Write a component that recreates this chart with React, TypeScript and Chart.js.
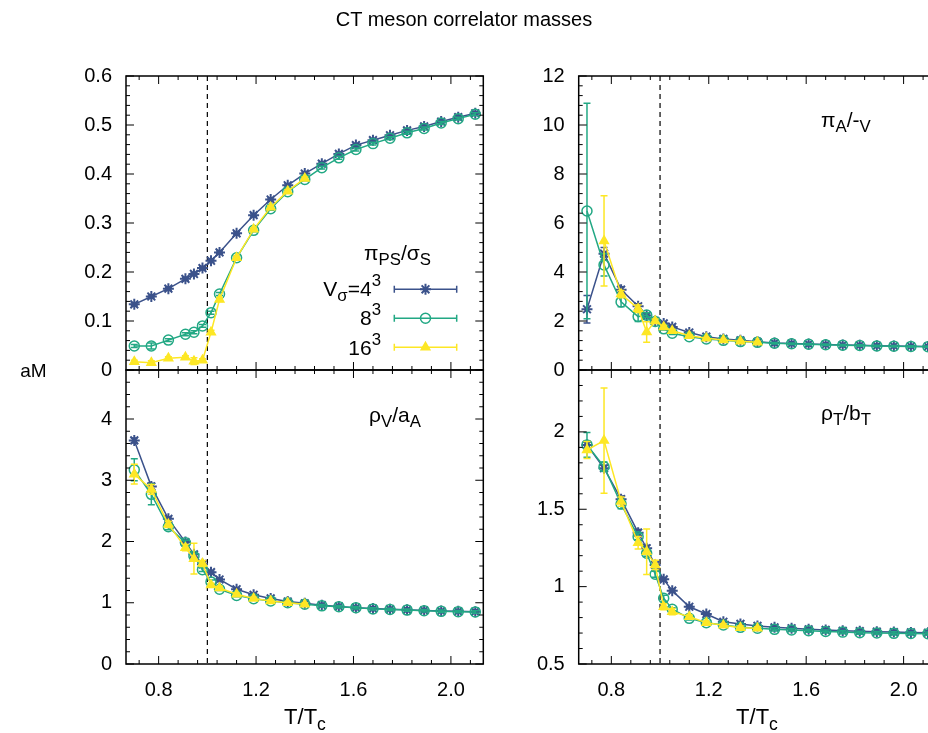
import React, { useEffect, useRef } from "react";
import { Chart, registerables } from "chart.js";

Chart.register(...registerables);

// ---------------- data ----------------
const T_OVER_TC = [0.70, 0.77, 0.84, 0.91, 0.945, 0.98, 1.015, 1.05, 1.12, 1.19, 1.26, 1.33, 1.40, 1.47, 1.54, 1.61, 1.68, 1.75, 1.82, 1.89, 1.96, 2.03, 2.10];
const X_TICKS = [0.8, 1.2, 1.6, 2.0];
const X_MIN = 0.666;
const X_MAX = 2.133;
const TC_LINE = 1.0;

// pi_PS / sigma_S
const PS_V4 = [0.134, 0.150, 0.166, 0.186, 0.196, 0.208, 0.223, 0.240, 0.279, 0.316, 0.348, 0.377, 0.401, 0.421, 0.441, 0.459, 0.469, 0.479, 0.489, 0.497, 0.507, 0.516, 0.524];
const PS_V4_ERR = [0.003, 0.003, 0.003, 0.003, 0.003, 0.003, 0.003, 0.003, 0.003, 0.003, 0.003, 0.003, 0.003, 0.003, 0.003, 0.003, 0.003, 0.003, 0.003, 0.003, 0.003, 0.003, 0.003];
const PS_V8 = [0.049, 0.049, 0.061, 0.073, 0.077, 0.090, 0.117, 0.155, 0.229, 0.285, 0.329, 0.364, 0.389, 0.413, 0.433, 0.450, 0.462, 0.473, 0.484, 0.493, 0.504, 0.513, 0.522];
const PS_V8_ERR = [0.003, 0.006, 0.003, 0.003, 0.003, 0.003, 0.003, 0.003, 0.003, 0.003, 0.003, 0.003, 0.003, 0.003, 0.003, 0.003, 0.003, 0.003, 0.003, 0.003, 0.003, 0.003, 0.003];
const PS_V16 = [0.017, 0.015, 0.024, 0.026, 0.018, 0.020, 0.077, 0.144, 0.229, 0.287, 0.332, 0.365, 0.391];
const PS_V16_ERR = [0.003, 0.004, 0.003, 0.003, 0.007, 0.003, 0.004, 0.004, 0.003, 0.003, 0.003, 0.003, 0.003];
const PS_Y_TICKS = [0, 0.1, 0.2, 0.3, 0.4, 0.5, 0.6];

// pi_A / -_V
const AV_V4 = [2.48, 4.75, 3.28, 2.60, 2.22, 2.00, 1.90, 1.76, 1.53, 1.36, 1.27, 1.21, 1.15, 1.10, 1.08, 1.06, 1.04, 1.02, 1.01, 0.99, 0.98, 0.97, 0.96];
const AV_V4_ERR = [0.56, 0.25, 0.12, 0.10, 0.08, 0.06, 0.05, 0.05, 0.04, 0.04, 0.03, 0.03, 0.03, 0.03, 0.03, 0.03, 0.03, 0.03, 0.03, 0.03, 0.03, 0.03, 0.03];
const AV_V8 = [6.49, 4.29, 2.78, 2.18, 2.24, 1.98, 1.68, 1.50, 1.36, 1.27, 1.21, 1.16, 1.13, 1.09, 1.07, 1.05, 1.03, 1.01, 1.00, 0.98, 0.97, 0.96, 0.95];
const AV_V8_ERR = [4.4, 0.45, 0.20, 0.20, 0.10, 0.06, 0.05, 0.05, 0.04, 0.03, 0.03, 0.03, 0.03, 0.03, 0.03, 0.03, 0.03, 0.03, 0.03, 0.03, 0.03, 0.03, 0.03];
const AV_V16 = [null, 5.27, 3.10, 2.50, 1.55, 2.00, 1.76, 1.60, 1.40, 1.30, 1.22, 1.17, 1.13];
const AV_V16_ERR = [0, 1.84, 0.15, 0.15, 0.42, 0.08, 0.06, 0.05, 0.04, 0.03, 0.03, 0.03, 0.03];
const AV_Y_TICKS = [0, 2, 4, 6, 8, 10, 12];

// rho_V / a_A
const VA_V4 = [3.65, 2.90, 2.37, 1.99, 1.79, 1.63, 1.50, 1.38, 1.22, 1.13, 1.07, 1.02, 0.99, 0.96, 0.94, 0.92, 0.905, 0.895, 0.885, 0.875, 0.865, 0.86, 0.855];
const VA_V4_ERR = [0.04, 0.05, 0.03, 0.03, 0.03, 0.02, 0.02, 0.02, 0.02, 0.02, 0.02, 0.02, 0.02, 0.02, 0.02, 0.02, 0.02, 0.02, 0.02, 0.02, 0.02, 0.02, 0.02];
const VA_V8 = [3.17, 2.77, 2.24, 1.98, 1.76, 1.54, 1.34, 1.22, 1.12, 1.065, 1.03, 1.00, 0.975, 0.95, 0.935, 0.92, 0.90, 0.89, 0.88, 0.87, 0.86, 0.855, 0.85];
const VA_V8_ERR = [0.18, 0.17, 0.05, 0.04, 0.04, 0.03, 0.03, 0.02, 0.02, 0.02, 0.02, 0.02, 0.02, 0.02, 0.02, 0.02, 0.02, 0.02, 0.02, 0.02, 0.02, 0.02, 0.02];
const VA_V16 = [3.10, 2.85, 2.28, 1.90, 1.72, 1.64, 1.29, 1.24, 1.14, 1.07, 1.03, 1.00, 0.975];
const VA_V16_ERR = [0.16, 0.08, 0.05, 0.05, 0.25, 0.05, 0.03, 0.03, 0.02, 0.02, 0.02, 0.02, 0.02];
const VA_Y_TICKS = [0, 1, 2, 3, 4];

// rho_T / b_T
const TB_V4 = [1.916, 1.765, 1.565, 1.349, 1.248, 1.14, 1.047, 0.974, 0.87, 0.823, 0.773, 0.759, 0.746, 0.737, 0.731, 0.724, 0.72, 0.715, 0.712, 0.709, 0.706, 0.704, 0.702];
const TB_V4_ERR = [0.02, 0.02, 0.02, 0.02, 0.02, 0.01, 0.01, 0.01, 0.01, 0.01, 0.01, 0.01, 0.01, 0.01, 0.01, 0.01, 0.01, 0.01, 0.01, 0.01, 0.01, 0.01, 0.01];
const TB_V8 = [1.916, 1.775, 1.534, 1.323, 1.216, 1.08, 0.925, 0.854, 0.795, 0.767, 0.752, 0.737, 0.731, 0.724, 0.72, 0.715, 0.71, 0.706, 0.702, 0.70, 0.698, 0.697, 0.696];
const TB_V8_ERR = [0.08, 0.03, 0.03, 0.02, 0.02, 0.02, 0.02, 0.01, 0.01, 0.01, 0.01, 0.01, 0.01, 0.01, 0.01, 0.01, 0.01, 0.01, 0.01, 0.01, 0.01, 0.01, 0.01];
const TB_V16 = [1.883, 1.944, 1.55, 1.284, 1.226, 1.14, 0.87, 0.838, 0.806, 0.767, 0.75, 0.735, 0.731];
const TB_V16_ERR = [0.055, 0.34, 0.03, 0.04, 0.147, 0.03, 0.02, 0.02, 0.01, 0.01, 0.01, 0.01, 0.01];
const TB_Y_TICKS = [0.5, 1, 1.5, 2];

// ---------------- style ----------------
const FONT = '"Liberation Sans", Arial, Helvetica, sans-serif';
const TICK_SIZE = 20;
const TEXT_SIZE = 21;
const BLUE = "#3b528b";
const GREEN = "#22a884";
const YELLOW = "#fde725";
const CW = 960;
const CH = 733;
const XAXIS_H = 40;

type Area = { left: number; top: number; right: number; bottom: number };
type Panel = {
  yMin: number; yMax: number; yTicks: number[]; yMinor: number;
  showX: boolean; area: Area; legend: boolean;
  v4: (number | null)[]; v4e: number[];
  v8: (number | null)[]; v8e: number[];
  v16: (number | null)[]; v16e: number[];
};

const PANELS: Panel[] = [
  { yMin: 0, yMax: 0.6, yTicks: PS_Y_TICKS, yMinor: 0.02, showX: false, legend: true,
    area: { left: 126, top: 76, right: 483.3, bottom: 370 },
    v4: PS_V4, v4e: PS_V4_ERR, v8: PS_V8, v8e: PS_V8_ERR, v16: PS_V16, v16e: PS_V16_ERR },
  { yMin: 0, yMax: 12, yTicks: AV_Y_TICKS, yMinor: 0.4, showX: false, legend: false,
    area: { left: 578.7, top: 76, right: 936, bottom: 370 },
    v4: AV_V4, v4e: AV_V4_ERR, v8: AV_V8, v8e: AV_V8_ERR, v16: AV_V16, v16e: AV_V16_ERR },
  { yMin: 0, yMax: 4.8, yTicks: VA_Y_TICKS, yMinor: 0.2, showX: true, legend: false,
    area: { left: 126, top: 370, right: 483.3, bottom: 664 },
    v4: VA_V4, v4e: VA_V4_ERR, v8: VA_V8, v8e: VA_V8_ERR, v16: VA_V16, v16e: VA_V16_ERR },
  { yMin: 0.5, yMax: 2.4, yTicks: TB_Y_TICKS, yMinor: 0.1, showX: true, legend: false,
    area: { left: 578.7, top: 370, right: 936, bottom: 664 },
    v4: TB_V4, v4e: TB_V4_ERR, v8: TB_V8, v8e: TB_V8_ERR, v16: TB_V16, v16e: TB_V16_ERR },
];

function fmt(v: number) {
  return String(Number(v.toFixed(2)));
}

function drawMarker(ctx: CanvasRenderingContext2D, style: string, x: number, y: number, r: number, color: string, lw: number) {
  ctx.save();
  ctx.strokeStyle = color;
  ctx.fillStyle = color;
  ctx.lineWidth = lw;
  ctx.beginPath();
  if (style === "star") {
    const d = r * Math.SQRT1_2;
    ctx.moveTo(x - r, y); ctx.lineTo(x + r, y);
    ctx.moveTo(x, y - r); ctx.lineTo(x, y + r);
    ctx.moveTo(x - d, y - d); ctx.lineTo(x + d, y + d);
    ctx.moveTo(x - d, y + d); ctx.lineTo(x + d, y - d);
    ctx.stroke();
  } else if (style === "circle") {
    ctx.arc(x, y, r, 0, Math.PI * 2);
    ctx.stroke();
  } else {
    for (let k = 0; k < 3; k++) {
      const a = (k * 2 * Math.PI) / 3;
      const px = x + Math.sin(a) * r;
      const py = y - Math.cos(a) * r;
      if (k === 0) ctx.moveTo(px, py); else ctx.lineTo(px, py);
    }
    ctx.closePath();
    ctx.fill();
    ctx.stroke();
  }
  ctx.restore();
}

const SERIES_STYLE = [
  { color: BLUE, point: "star", radius: 5.5, order: 3, fill: BLUE, pw: 2 },
  { color: GREEN, point: "circle", radius: 5, order: 2, fill: "rgba(0,0,0,0)", pw: 1.5 },
  { color: YELLOW, point: "triangle", radius: 5, order: 1, fill: YELLOW, pw: 1.5 },
];

function makePlugin(p: Panel) {
  return {
    id: "gnuframe",
    beforeDatasetsDraw(chart: any) {
      const { ctx, chartArea: a, scales } = chart;
      const x = scales.x.getPixelForValue(TC_LINE);
      ctx.save();
      ctx.strokeStyle = "#000";
      ctx.lineWidth = 1.2;
      ctx.setLineDash([5, 4]);
      ctx.beginPath();
      ctx.moveTo(x, a.top);
      ctx.lineTo(x, a.bottom);
      ctx.stroke();
      ctx.restore();
    },
    beforeDatasetDraw(chart: any, args: any) {
      const ds = chart.data.datasets[args.index];
      const errs: number[] = ds.errors;
      const { ctx, chartArea: a, scales } = chart;
      ctx.save();
      ctx.beginPath();
      ctx.rect(a.left, a.top, a.right - a.left, a.bottom - a.top);
      ctx.clip();
      ctx.strokeStyle = ds.borderColor;
      ctx.lineWidth = 1.5;
      ds.data.forEach((pt: any, i: number) => {
        const e = errs[i];
        if (pt.y === null || !e) return;
        const px = scales.x.getPixelForValue(pt.x);
        const y1 = scales.y.getPixelForValue(pt.y - e);
        const y2 = scales.y.getPixelForValue(pt.y + e);
        ctx.beginPath();
        ctx.moveTo(px, y1); ctx.lineTo(px, y2);
        ctx.moveTo(px - 3.5, y1); ctx.lineTo(px + 3.5, y1);
        ctx.moveTo(px - 3.5, y2); ctx.lineTo(px + 3.5, y2);
        ctx.stroke();
      });
      ctx.restore();
    },
    afterDraw(chart: any) {
      const { ctx, chartArea: a, scales } = chart;
      ctx.save();
      ctx.strokeStyle = "#000";
      ctx.lineWidth = 1;
      for (let k = -5; k <= 30; k++) {
        const v = X_TICKS[0] + k * 0.08;
        if (v < X_MIN - 1e-9 || v > X_MAX + 1e-9) continue;
        const major = k % 5 === 0;
        const len = major ? 8 : 4;
        const px = scales.x.getPixelForValue(v);
        ctx.beginPath();
        ctx.moveTo(px, a.bottom); ctx.lineTo(px, a.bottom - len);
        ctx.moveTo(px, a.top); ctx.lineTo(px, a.top + len);
        ctx.stroke();
      }
      const majorStep = p.yTicks[1] - p.yTicks[0];
      const nPer = Math.round(majorStep / p.yMinor);
      for (let k = -nPer * 2; k <= 200; k++) {
        const v = p.yTicks[0] + k * p.yMinor;
        if (v < p.yMin - 1e-9 || v > p.yMax + 1e-9) continue;
        const major = ((k % nPer) + nPer) % nPer === 0;
        const len = major ? 8 : 4;
        const py = scales.y.getPixelForValue(v);
        ctx.beginPath();
        ctx.moveTo(a.left, py); ctx.lineTo(a.left + len, py);
        ctx.moveTo(a.right, py); ctx.lineTo(a.right - len, py);
        ctx.stroke();
      }
      ctx.lineWidth = 1.5;
      ctx.strokeRect(a.left, a.top, a.right - a.left, a.bottom - a.top);
      ctx.restore();

      if (p.legend) {
        const x1 = a.right - 89;
        const x2 = a.right - 26.6;
        const ys = [a.bottom - 80.7, a.bottom - 51.7, a.bottom - 22.7];
        SERIES_STYLE.forEach((s, i) => {
          const y = ys[i];
          ctx.save();
          ctx.strokeStyle = s.color;
          ctx.lineWidth = 1.5;
          ctx.beginPath();
          ctx.moveTo(x1, y); ctx.lineTo(x2, y);
          ctx.moveTo(x1, y - 3.5); ctx.lineTo(x1, y + 3.5);
          ctx.moveTo(x2, y - 3.5); ctx.lineTo(x2, y + 3.5);
          ctx.stroke();
          ctx.restore();
          drawMarker(ctx, s.point, (x1 + x2) / 2, y, s.radius, s.color, s.pw);
        });
      }
    },
  };
}

function toPoints(vals: (number | null)[]) {
  return vals.map((v, i) => ({ x: T_OVER_TC[i], y: v }));
}

function buildChart(canvas: HTMLCanvasElement, p: Panel) {
  const series = [
    { vals: p.v4, errs: p.v4e },
    { vals: p.v8, errs: p.v8e },
    { vals: p.v16, errs: p.v16e },
  ];
  const datasets = series.map((s, i) => {
    const st = SERIES_STYLE[i];
    return {
      data: toPoints(s.vals),
      errors: s.errs,
      borderColor: st.color,
      backgroundColor: st.fill,
      borderWidth: 1.5,
      pointStyle: st.point,
      pointRadius: st.radius,
      pointBorderWidth: st.pw,
      pointBorderColor: st.color,
      pointBackgroundColor: st.fill,
      tension: 0,
      spanGaps: false,
      order: st.order,
    };
  });
  const font = { family: FONT, size: TICK_SIZE };
  return new Chart(canvas, {
    type: "line",
    data: { datasets } as any,
    options: {
      responsive: false,
      animation: false,
      devicePixelRatio: 1,
      events: [],
      layout: {
        padding: {
          left: 0,
          top: p.area.top,
          right: CW - p.area.right,
          bottom: CH - p.area.bottom - XAXIS_H,
        },
      },
      plugins: { legend: { display: false }, tooltip: { enabled: false }, title: { display: false } },
      scales: {
        x: {
          type: "linear",
          min: X_MIN,
          max: X_MAX,
          afterBuildTicks: (s: any) => { s.ticks = X_TICKS.map((v) => ({ value: v })); },
          afterFit: (s: any) => { s.height = XAXIS_H; },
          grid: { display: false, drawTicks: false },
          border: { display: false },
          ticks: {
            display: p.showX,
            padding: 14,
            maxRotation: 0,
            autoSkip: false,
            color: "#000",
            font,
            callback: (v: any) => Number(v).toFixed(1),
          },
        },
        y: {
          type: "linear",
          min: p.yMin,
          max: p.yMax,
          afterBuildTicks: (s: any) => { s.ticks = p.yTicks.map((v) => ({ value: v })); },
          afterFit: (s: any) => { s.width = p.area.left; },
          grid: { display: false, drawTicks: false },
          border: { display: false },
          ticks: { padding: 14, color: "#000", font, callback: (v: any) => fmt(Number(v)) },
        },
      },
    } as any,
    plugins: [makePlugin(p)],
  });
}

// ---------------- text helpers ----------------
type Seg = { t: string; k?: "sub" | "sup" };

function Rich({ segs }: { segs: Seg[] }) {
  return (
    <>
      {segs.map((s, i) =>
        s.k ? (
          <span key={i} style={{ fontSize: "0.8em", position: "relative", top: s.k === "sub" ? "0.3em" : "-0.6em" }}>{s.t}</span>
        ) : (
          <span key={i}>{s.t}</span>
        )
      )}
    </>
  );
}

function Label({ x, baseline, align, size, segs }: { x: number; baseline: number; align: "left" | "right" | "center"; size: number; segs: Seg[] }) {
  const top = baseline - 0.8465 * size;
  const style: React.CSSProperties = {
    position: "absolute",
    top,
    fontFamily: FONT,
    fontSize: size,
    lineHeight: 1,
    whiteSpace: "nowrap",
    color: "#000",
  };
  if (align === "left") style.left = x;
  else if (align === "right") { style.right = 928 - x; style.textAlign = "right"; }
  else { style.left = x; style.transform = "translateX(-50%)"; }
  return <div style={style}><Rich segs={segs} /></div>;
}

export default function App() {
  const canvases = useRef<(HTMLCanvasElement | null)[]>([]);
  useEffect(() => {
    const charts = PANELS.map((p, i) => buildChart(canvases.current[i] as HTMLCanvasElement, p));
    return () => charts.forEach((c) => c.destroy());
  }, []);
  return (
    <div style={{ position: "absolute", left: 0, top: 0, width: 928, height: 733, overflow: "hidden", background: "#fff" }}>
      {PANELS.map((_, i) => (
        <canvas
          key={i}
          ref={(el) => { canvases.current[i] = el; }}
          width={CW}
          height={CH}
          style={{ position: "absolute", left: 0, top: 0, width: CW, height: CH }}
        />
      ))}
      <Label x={464} baseline={26} align="center" size={20} segs={[{ t: "CT meson correlator masses" }]} />
      <Label x={33.5} baseline={377} align="center" size={19} segs={[{ t: "aM" }]} />
      <Label x={305} baseline={725} align="center" size={22} segs={[{ t: "T/T" }, { t: "c", k: "sub" }]} />
      <Label x={757} baseline={725} align="center" size={22} segs={[{ t: "T/T" }, { t: "c", k: "sub" }]} />
      <Label x={369} baseline={422} align="left" size={TEXT_SIZE} segs={[{ t: "ρ" }, { t: "V", k: "sub" }, { t: "/a" }, { t: "A", k: "sub" }]} />
      <Label x={821} baseline={127} align="left" size={TEXT_SIZE} segs={[{ t: "π" }, { t: "A", k: "sub" }, { t: "/-" }, { t: "V", k: "sub" }]} />
      <Label x={821} baseline={420} align="left" size={TEXT_SIZE} segs={[{ t: "ρ" }, { t: "T", k: "sub" }, { t: "/b" }, { t: "T", k: "sub" }]} />
      <Label x={364} baseline={260} align="left" size={TEXT_SIZE} segs={[{ t: "π" }, { t: "PS", k: "sub" }, { t: "/σ" }, { t: "S", k: "sub" }]} />
      <Label x={381} baseline={295.5} align="right" size={TEXT_SIZE} segs={[{ t: "V" }, { t: "σ", k: "sub" }, { t: "=4" }, { t: "3", k: "sup" }]} />
      <Label x={381} baseline={325} align="right" size={TEXT_SIZE} segs={[{ t: "8" }, { t: "3", k: "sup" }]} />
      <Label x={381} baseline={355} align="right" size={TEXT_SIZE} segs={[{ t: "16" }, { t: "3", k: "sup" }]} />
    </div>
  );
}
